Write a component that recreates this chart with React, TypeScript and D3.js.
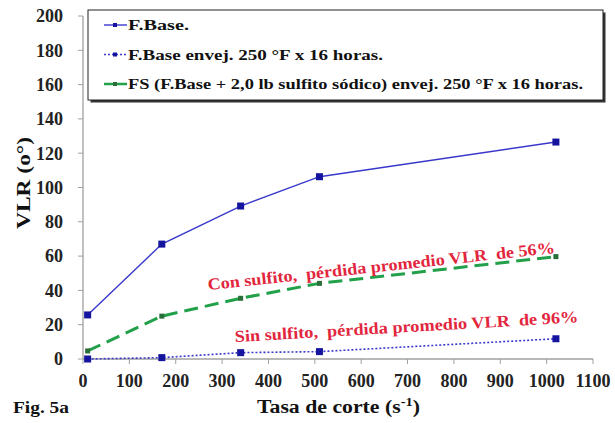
import React from 'react';
import * as d3 from 'd3';

const width = 615;
const height = 423;
const margin = { top: 16, right: 22, bottom: 64, left: 83 };

const shearRates = [10, 170, 340, 510, 1020];
const baseVlr = [25.7, 67, 89.2, 106.3, 126.5];
const agedVlr = [0, 0.8, 3.7, 4.3, 11.8];
const sulfiteVlr = [4.7, 25, 35.4, 44.1, 59.7];
const xTicks = [0, 100, 200, 300, 400, 500, 600, 700, 800, 900, 1000, 1100];
const yTicks = [0, 20, 40, 60, 80, 100, 120, 140, 160, 180, 200];
const legendLabels = [
  'F.Base.',
  'F.Base envej. 250 °F x 16 horas.',
  'FS (F.Base + 2,0 lb sulfito sódico) envej. 250 °F x 16 horas.',
];
const notes = [
  'Con sulfito,  pérdida promedio VLR  de 56%',
  'Sin sulfito,  pérdida promedio VLR  de 96%',
];

const font = "'Liberation Serif', 'Times New Roman', serif";
const red = '#e2263e';

const App = () => {
  const innerH = height - margin.top - margin.bottom;

  const x = d3.scaleLinear().domain([0, 1100]).range([0, 510]);
  const y = d3.scaleLinear().domain([0, 200]).range([innerH, 0]);

  const line = d3
    .line<number>()
    .x((_, i) => x(shearRates[i]))
    .y((d) => y(d));

  const series = [
    { name: legendLabels[0], values: baseVlr, stroke: '#3838cc', width: 1.4, dash: '', legDash: '', marker: '#14149e', size: 7, len: 61 },
    { name: legendLabels[1], values: agedVlr, stroke: '#3838cc', width: 1.6, dash: '2,2', legDash: '2,2', marker: '#14149e', size: 7, len: 255 },
    { name: legendLabels[2], values: sulfiteVlr, stroke: '#22a04a', width: 3, dash: '14,7', legDash: '', marker: '#2a6e3a', size: 5, len: 455 },
  ];

  return (
    <svg width={width} height={height} style={{ position: 'absolute', left: 0, top: 0, background: '#fff' }}>
      <g transform={`translate(${margin.left},${margin.top})`} style={{ fontFamily: font, fontWeight: 'bold' }}>
        {/* axes */}
        <line x1={0} x2={0} y1={0} y2={innerH} stroke="#a0a0a0" strokeWidth={1.3} />
        <line x1={0} x2={x(1100)} y1={innerH} y2={innerH} stroke="#a0a0a0" strokeWidth={1.3} />
        {yTicks.map((t) => (
          <g key={t} transform={`translate(0,${y(t)})`}>
            <line x1={-5} x2={0} stroke="#a0a0a0" />
            <text x={-20} dy="0.35em" textAnchor="end" fontSize={18} fill="#222">
              {t}
            </text>
          </g>
        ))}
        {xTicks.map((t) => (
          <g key={t} transform={`translate(${x(t)},${innerH})`}>
            <line y1={0} y2={5} stroke="#a0a0a0" />
            <text y={28} textAnchor="middle" fontSize={18} fill="#222">
              {t}
            </text>
          </g>
        ))}

        {/* series */}
        {series.map((s) => (
          <g key={s.name}>
            <path d={line(s.values) || ''} fill="none" stroke={s.stroke} strokeWidth={s.width} strokeDasharray={s.dash} />
            {s.values.map((v, i) => (
              <rect
                key={i}
                x={x(shearRates[i]) - s.size / 2}
                y={y(v) - s.size / 2}
                width={s.size}
                height={s.size}
                fill={s.marker}
              />
            ))}
          </g>
        ))}

        {/* annotations */}
        <text
          transform={`translate(${x(270)},${y(40.2)}) rotate(-6.1)`}
          fontSize={16.5}
          fill={red}
          textLength={349}
          lengthAdjust="spacingAndGlyphs"
          style={{ whiteSpace: 'pre' }}
        >
          {notes[0]}
        </text>
        <text
          transform={`translate(${x(328)},${y(9.9)}) rotate(-3.3)`}
          fontSize={16.5}
          fill={red}
          textLength={344}
          lengthAdjust="spacingAndGlyphs"
          style={{ whiteSpace: 'pre' }}
        >
          {notes[1]}
        </text>

        {/* legend */}
        <g transform="translate(5,-6)">
          <rect x={2.5} y={2.5} width={515} height={90} fill="#333" />
          <rect x={0} y={0} width={515} height={90} fill="#fff" stroke="#222" strokeWidth={1} />
          {series.map((s, i) => (
            <g key={s.name} transform={`translate(0,${15 + i * 29.5})`}>
              <line x1={16} x2={39} stroke={s.stroke} strokeWidth={s.width === 3 ? 2.5 : 1.4} strokeDasharray={s.legDash} />
              <rect x={25} y={-2} width={4} height={4} fill={s.marker} />
              <text
                x={40}
                dy="0.35em"
                fontSize={14.5}
                fill="#111"
                textLength={s.len}
                lengthAdjust="spacingAndGlyphs"
              >
                {s.name}
              </text>
            </g>
          ))}
        </g>

        {/* titles */}
        <text
          transform={`translate(-53,${167}) rotate(-90)`}
          textAnchor="middle"
          fontSize={18}
          fill="#111"
          textLength={92}
          lengthAdjust="spacingAndGlyphs"
        >
          VLR (o°)
        </text>
        <text x={174} y={innerH + 54} fontSize={18} fill="#111" textLength={163} lengthAdjust="spacingAndGlyphs">
          Tasa de corte (s<tspan dy={-7} fontSize={12}>-1</tspan><tspan dy={7}>)</tspan>
        </text>
        <text x={-70} y={innerH + 54} fontSize={17} fill="#111" textLength={56} lengthAdjust="spacingAndGlyphs">
          Fig.  5a
        </text>
      </g>
    </svg>
  );
};

export default App;
